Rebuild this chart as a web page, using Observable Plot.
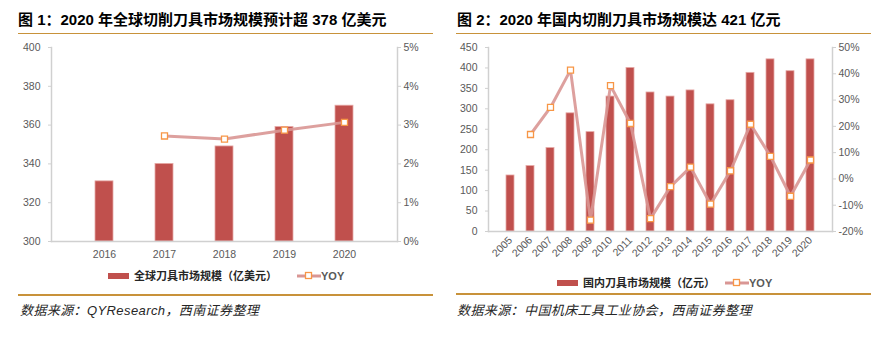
<!DOCTYPE html>
<html>
<head>
<meta charset="utf-8">
<script src="https://cdn.jsdelivr.net/npm/d3@7"></script>
<script src="https://cdn.jsdelivr.net/npm/@observablehq/plot@0.6"></script>
<style>
  body { margin:0; background:#fff; }
  #root { position:relative; width:887px; height:356px; overflow:hidden; background:#fff;
          font-family:"Liberation Sans", Arial, "Noto Sans CJK SC", sans-serif; }
  .abs { position:absolute; }
  .title { font-size:15px; font-weight:bold; color:#000; white-space:nowrap; line-height:18px; }
  .rule { background:#C8923A; }
  .legend { font-size:11px; color:#404040; white-space:nowrap; line-height:14px; }
  .legend b { font-weight:bold; color:#262626; }
  .caption { font-size:13px; font-style:italic; color:#262626; white-space:nowrap; line-height:16px; letter-spacing:0.4px; }
</style>
</head>
<body>
<div id="root">
  <div class="abs title" style="left:18px;top:11px;">图 1：2020 年全球切削刀具市场规模预计超 378 亿美元</div>
  <div class="abs rule" style="left:18px;top:33px;width:415px;height:1px;"></div>
  <div class="abs" id="chartL" style="left:0px;top:40px;"></div>
  <div class="abs legend" style="left:108px;top:269px;">
    <svg width="21" height="14" style="vertical-align:top"><rect x="0" y="4" width="21" height="6" fill="#C0504D"/></svg>
    <b style="margin-left:2px">全球刀具市场规模（亿美元）</b>
  </div>
  <div class="abs legend" style="left:297px;top:269px;">
    <svg width="24" height="14" style="vertical-align:top"><line x1="0" x2="24" y1="7" y2="7" stroke="#D99694" stroke-width="3"/><rect x="8.5" y="3.5" width="6" height="6" fill="#fff" stroke="#F79646" stroke-width="1.3"/></svg><span style="font-weight:bold;color:#595959">YOY</span>
  </div>
  <div class="abs rule" style="left:18px;top:294px;width:415px;height:2px;"></div>
  <div class="abs caption" style="left:20px;top:303px;">数据来源：QYResearch，西南证券整理</div>

  <div class="abs title" style="left:457px;top:11px;">图 2：2020 年国内切削刀具市场规模达 421 亿元</div>
  <div class="abs rule" style="left:456px;top:33px;width:415px;height:1px;"></div>
  <div class="abs" id="chartR" style="left:445px;top:40px;"></div>
  <div class="abs legend" style="left:557px;top:276px;">
    <svg width="21" height="14" style="vertical-align:top"><rect x="0" y="4" width="21" height="6" fill="#C0504D"/></svg>
    <b style="margin-left:2px">国内刀具市场规模（亿元）</b>
  </div>
  <div class="abs legend" style="left:725px;top:276px;">
    <svg width="24" height="14" style="vertical-align:top"><line x1="0" x2="24" y1="7" y2="7" stroke="#D99694" stroke-width="3"/><rect x="8.5" y="3.5" width="6" height="6" fill="#fff" stroke="#F79646" stroke-width="1.3"/></svg><span style="font-weight:bold;color:#595959">YOY</span>
  </div>
  <div class="abs rule" style="left:456px;top:293px;width:415px;height:2px;"></div>
  <div class="abs caption" style="left:457px;top:303px;">数据来源：中国机床工具工业协会，西南证券整理</div>
</div>
<script>
// ---- Chart 1 data: global cutting tool market (亿美元) ----
const yearsGlobal = ["2016", "2017", "2018", "2019", "2020"];
const sizeGlobal = [331, 340, 349, 359, 370];
const yoyGlobal = [null, 2.72, 2.64, 2.87, 3.07];
const leftTicksGlobal = [300, 320, 340, 360, 380, 400];
const rightTicksGlobal = [0, 1, 2, 3, 4, 5];

// ---- Chart 2 data: domestic cutting tool market (亿元) ----
const yearsChina = ["2005","2006","2007","2008","2009","2010","2011","2012","2013","2014","2015","2016","2017","2018","2019","2020"];
const sizeChina = [137, 160, 204, 289, 243, 330, 400, 340, 330, 345, 311, 321, 388, 421, 392, 421];
const yoyChina = [null, 16.9, 27.2, 41.4, -15.7, 35.5, 21.1, -15.1, -2.9, 4.5, -9.6, 3.1, 20.8, 8.6, -6.6, 7.2];
const leftTicksChina = [0, 50, 100, 150, 200, 250, 300, 350, 400, 450];
const rightTicksChina = [-20, -10, 0, 10, 20, 30, 40, 50];

const AXIS = "#D0D0D0";
const TXT = "#595959";

function makeChart(opts) {
  const {years, sizes, yoy, lTicks, rTicks, width, height, margins, padding, rotate} = opts;
  const yl = [lTicks[0], lTicks[lTicks.length - 1]];
  const yr = [rTicks[0], rTicks[rTicks.length - 1]];
  const toL = v => yl[0] + (v - yr[0]) / (yr[1] - yr[0]) * (yl[1] - yl[0]);
  const toR = v => yr[0] + (v - yl[0]) / (yl[1] - yl[0]) * (yr[1] - yr[0]);
  const bars = years.map((y, i) => ({year: y, v: sizes[i]}));
  const line = years.map((y, i) => ({year: y, g: yoy[i]})).filter(d => d.g != null);
  return Plot.plot({
    width, height,
    marginLeft: margins[0], marginRight: margins[1], marginTop: margins[2], marginBottom: margins[3],
    style: {fontFamily: "Liberation Sans, Arial, sans-serif", fontSize: "10px", color: TXT, background: "transparent"},
    x: {type: "band", domain: years, padding, label: null},
    y: {domain: yl, label: null},
    marks: [
      Plot.barY(bars, {x: "year", y1: () => yl[0], y2: "v", fill: "#C0504D", stroke: "#E6A9A6", strokeWidth: 0.8}),
      Plot.frame({anchor: "left", stroke: AXIS, strokeWidth: 1.5}),
      Plot.frame({anchor: "right", stroke: AXIS, strokeWidth: 1.5}),
      Plot.frame({anchor: "bottom", stroke: AXIS, strokeWidth: 1.5}),
      Plot.axisY({anchor: "left", ticks: lTicks, tickSize: 3, tickPadding: 8, stroke: AXIS, fill: TXT, label: null, fontSize: 10.5}),
      Plot.axisY({anchor: "right", ticks: rTicks.map(toL), tickSize: 3, tickPadding: 3, stroke: AXIS, fill: TXT,
        tickFormat: v => Math.round(toR(v)) + "%", label: null, fontSize: 10.5}),
      rotate
        ? Plot.axisX({tickSize: 0, tickRotate: -45, tickPadding: 7, fill: TXT, label: null, fontSize: 10.5})
        : Plot.axisX({tickSize: 0, tickPadding: 9, fill: TXT, label: null, fontSize: 10.5}),
      Plot.line(line, {x: "year", y: d => toL(d.g), stroke: "#D99694", strokeWidth: 3, strokeOpacity: 0.9}),
      Plot.dot(line, {x: "year", y: d => toL(d.g), symbol: "square", r: 3.4, fill: "#fff", stroke: "#F79646", strokeWidth: 1.3})
    ]
  });
}

document.getElementById("chartL").appendChild(makeChart({
  years: yearsGlobal, sizes: sizeGlobal, yoy: yoyGlobal,
  lTicks: leftTicksGlobal, rTicks: rightTicksGlobal,
  width: 445, height: 225, margins: [51, 48, 7, 24], padding: 0.7, rotate: false
}));
document.getElementById("chartR").appendChild(makeChart({
  years: yearsChina, sizes: sizeChina, yoy: yoyChina,
  lTicks: leftTicksChina, rTicks: rightTicksChina,
  width: 442, height: 230, margins: [43, 55, 7, 39], padding: 0.62, rotate: true
}));
</script>
</body>
</html>
